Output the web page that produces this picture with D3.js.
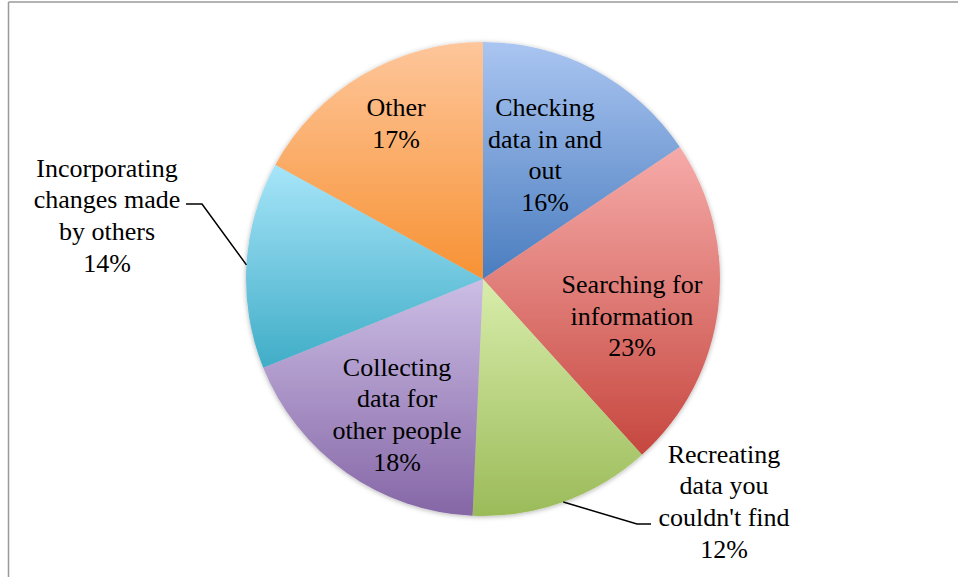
<!DOCTYPE html>
<html>
<head>
<meta charset="utf-8">
<script src="https://cdn.jsdelivr.net/npm/d3@7"></script>
<style>
  body { margin: 0; background: #fff; }
  svg { display: block; }
</style>
</head>
<body>
<svg></svg>
<script>
// slice labels (each line of the label), clockwise from 12 o'clock
let labels = [
  ["Checking", "data in and", "out"],
  ["Searching for", "information"],
  ["Recreating", "data you", "couldn't find"],
  ["Collecting", "data for", "other people"],
  ["Incorporating", "changes made", "by others"],
  ["Other"]
]
// shares (labels show them rounded)
let values = [15.6, 22.7, 12.4, 18.2, 14.1, 17.0]
// gradient colours, top then bottom
let topColors = ["#aac5f1", "#f6aba9", "#d8edab", "#ccbee5", "#a7e5f9", "#fec69b"]
let bottomColors = ["#4a7dbf", "#c6473f", "#9bbb59", "#8566a6", "#40adc7", "#f79234"]

let width = 958
let height = 577
let cx = 483
let cy = 279
let radius = 237
let lineHeight = 31.7

// label block centres; outside labels also get a leader elbow
let labelPos = [
  { x: 545, y: 154.5 },
  { x: 632, y: 315.5 },
  { x: 724, y: 501, elbow: [637, 524], end: [651, 524] },
  { x: 397, y: 414 },
  { x: 107, y: 215, elbow: [202, 204], end: [186, 204] },
  { x: 396, y: 123 }
]

let svg = d3.select("svg")
  .attr("width", width)
  .attr("height", height)

// chart frame (only top and left edges show)
svg.append("line")
  .attr("x1", 8.5).attr("y1", 2).attr("x2", width).attr("y2", 2)
  .attr("stroke", "#9a9a9a").attr("stroke-width", 1.5)
svg.append("line")
  .attr("x1", 8.5).attr("y1", 2).attr("x2", 8.5).attr("y2", height)
  .attr("stroke", "#9a9a9a").attr("stroke-width", 1.5)

let defs = svg.append("defs")

labels.forEach((d, i) => {
  let g = defs.append("linearGradient")
    .attr("id", "grad" + i)
    .attr("x1", 0).attr("y1", 0).attr("x2", 0).attr("y2", 1)
  g.append("stop").attr("offset", "0%").attr("stop-color", topColors[i])
  g.append("stop").attr("offset", "100%").attr("stop-color", bottomColors[i])
})

let shadow = defs.append("filter").attr("id", "shadow")
  .attr("x", "-10%").attr("y", "-10%").attr("width", "120%").attr("height", "120%")
shadow.append("feDropShadow")
  .attr("dx", 0).attr("dy", 1).attr("stdDeviation", 2.5)
  .attr("flood-color", "#000").attr("flood-opacity", 0.3)

let pie = d3.pie().sort(null).value(d => d)
let arcs = pie(values)

let arc = d3.arc().innerRadius(0).outerRadius(radius)

let chart = svg.append("g")
  .attr("transform", "translate(" + cx + "," + cy + ")")

chart.append("g")
  .attr("filter", "url(#shadow)")
  .selectAll("path")
  .data(arcs)
  .enter()
  .append("path")
  .attr("d", arc)
  .attr("fill", (d, i) => "url(#grad" + i + ")")

let font = "'Liberation Serif', 'Times New Roman', serif"

let drawLabel = function(lines, x, y) {
  let t = svg.append("text")
    .attr("text-anchor", "middle")
    .attr("font-family", font)
    .attr("font-size", 26)
    .attr("fill", "#000")
  lines.forEach((line, k) => {
    t.append("tspan")
      .attr("x", x)
      .attr("y", y + (k - (lines.length - 1) / 2) * lineHeight)
      .attr("dy", "0.35em")
      .text(line)
  })
}

arcs.forEach((d, i) => {
  let lines = labels[i].concat([Math.round(values[i]) + "%"])
  let pos = labelPos[i]
  if (pos.elbow) {
    let mid = (d.startAngle + d.endAngle) / 2
    let px = cx + Math.sin(mid) * radius
    let py = cy - Math.cos(mid) * radius
    svg.append("path")
      .attr("d", d3.line()([[px, py], pos.elbow, pos.end]))
      .attr("fill", "none")
      .attr("stroke", "#000")
      .attr("stroke-width", 1.5)
  }
  drawLabel(lines, pos.x, pos.y)
})
</script>
</body>
</html>
